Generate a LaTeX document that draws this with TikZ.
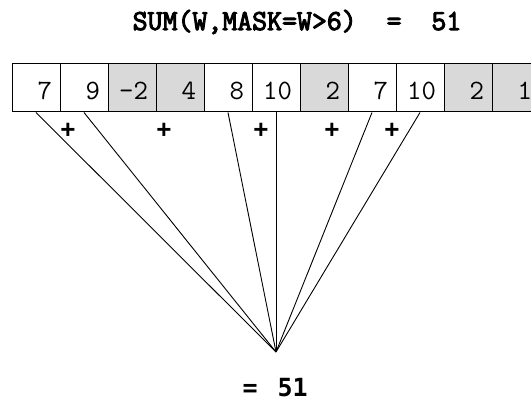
\documentclass[tikz,border=0pt]{standalone}
\usepackage{fontspec}
\setsansfont{Liberation Sans}
\newfontfamily\sumfont{DejaVu Sans Mono}
\newfontfamily\headfont{Latin Modern Mono}[FakeBold=3.5]
\begin{document}
\begin{tikzpicture}[x=1pt, y=-1pt,
    cell/.style={draw, line width=1pt, minimum width=48pt, minimum height=48pt,
      inner xsep=8pt, inner ysep=0pt, text width=32pt, align=right,
      text height=24pt, text depth=0pt, font=\ttfamily\fontsize{28}{28}\selectfont},
    plus/.style={inner sep=0pt, font=\sffamily\bfseries\fontsize{26}{26}\selectfont},
    sumline/.style={line width=0.9pt}]
  \definecolor{mask-gray}{gray}{0.85}
  \useasboundingbox (0,0) rectangle (531,403);
  \clip (0,0) rectangle (531,403);
  % heading
  \node[anchor=base, font=\headfont\fontsize{29}{29}\selectfont] (title) at (297,30) {SUM(W,MASK=W>6)~~=~~51};
  % the array W, masked-out cells in grey
  \foreach \v/\f [count=\i from 0] in {7/white, 9/white, -2/mask-gray, 4/mask-gray, 8/white, 10/white, 2/mask-gray, 7/white, 10/white, 2/mask-gray, 1/mask-gray}
    \node[cell, fill=\f] (c\i) at (36+48*\i,88) {\v};
  \coordinate (apex) at (276,352);
  \foreach \i in {0,1,4,5,7,8}
    \draw[sumline] (c\i.south) -- (apex);
  \node[plus] (p1) at (68,131) {+};
  \node[plus] (p2) at (164,131) {+};
  \node[plus] (p3) at (261,131) {+};
  \node[plus] (p4) at (332,131) {+};
  \node[plus] (p5) at (392,131) {+};
  % result
  \node[anchor=base west, font=\sumfont\bfseries\fontsize{25}{25}\selectfont] (total) at (239,397) {=\hspace{5pt} 51};
\end{tikzpicture}
\end{document}
